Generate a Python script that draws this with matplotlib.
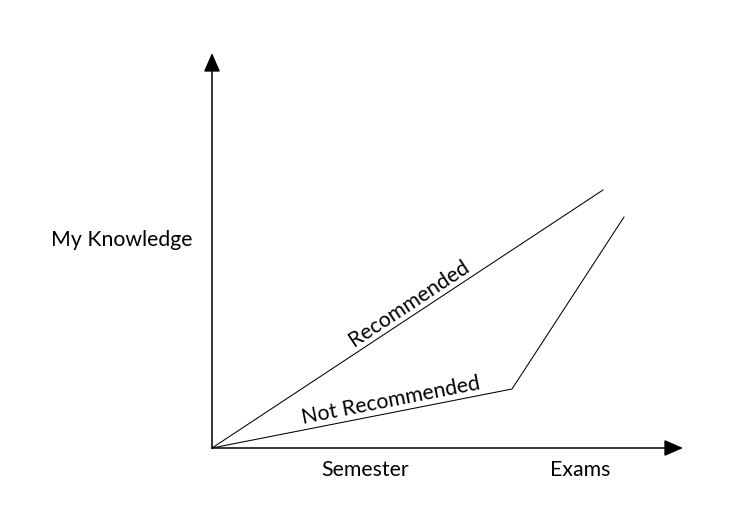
import matplotlib.pyplot as plt

# data in pixel-like units measured from the origin
rec_x = [0, 391]
rec_y = [0, 258]
notrec_x = [0, 300, 412]
notrec_y = [0, 59, 231]
x_max = 471
y_max = 395

plt.rcParams['font.family'] = ['Lato', 'DejaVu Sans']

fig = plt.figure(figsize=(7.41, 5.24), dpi=100)
ax = fig.add_axes([212 / 741, 76 / 524, x_max / 741, y_max / 524])
ax.set_xlim(0, x_max)
ax.set_ylim(0, y_max)
ax.axis('off')

ax.plot(rec_x, rec_y, color='black', lw=0.75, clip_on=False)
ax.plot(notrec_x, notrec_y, color='black', lw=0.75, clip_on=False)

# axes with arrow heads
arrow = dict(arrowstyle='-|>,head_length=1.15,head_width=0.5', mutation_scale=10,
             lw=1.1, color='black', shrinkA=0, shrinkB=0)
ax.annotate('', xy=(0, y_max), xytext=(0, 0), arrowprops=arrow, annotation_clip=False)
ax.annotate('', xy=(x_max, 0), xytext=(0, 0), arrowprops=arrow, annotation_clip=False)

fs = 15.3
# labels along the lines
ax.text(203, 203 * rec_y[1] / rec_x[1] + 2, 'Recommended', rotation=33.4,
        rotation_mode='anchor', transform_rotates_text=True,
        ha='center', va='bottom', fontsize=fs)
ax.text(181, 181 * notrec_y[1] / notrec_x[1] + 2, 'Not Recommended', rotation=11.1,
        rotation_mode='anchor', transform_rotates_text=True,
        ha='center', va='bottom', fontsize=fs)

ax.text(153, -22, 'Semester', ha='center', va='center', fontsize=fs, clip_on=False)
ax.text(368, -22, 'Exams', ha='center', va='center', fontsize=fs, clip_on=False)
ax.text(-90, 208, 'My Knowledge', ha='center', va='center', fontsize=fs, clip_on=False)

fig.savefig('out.png', dpi=100)
